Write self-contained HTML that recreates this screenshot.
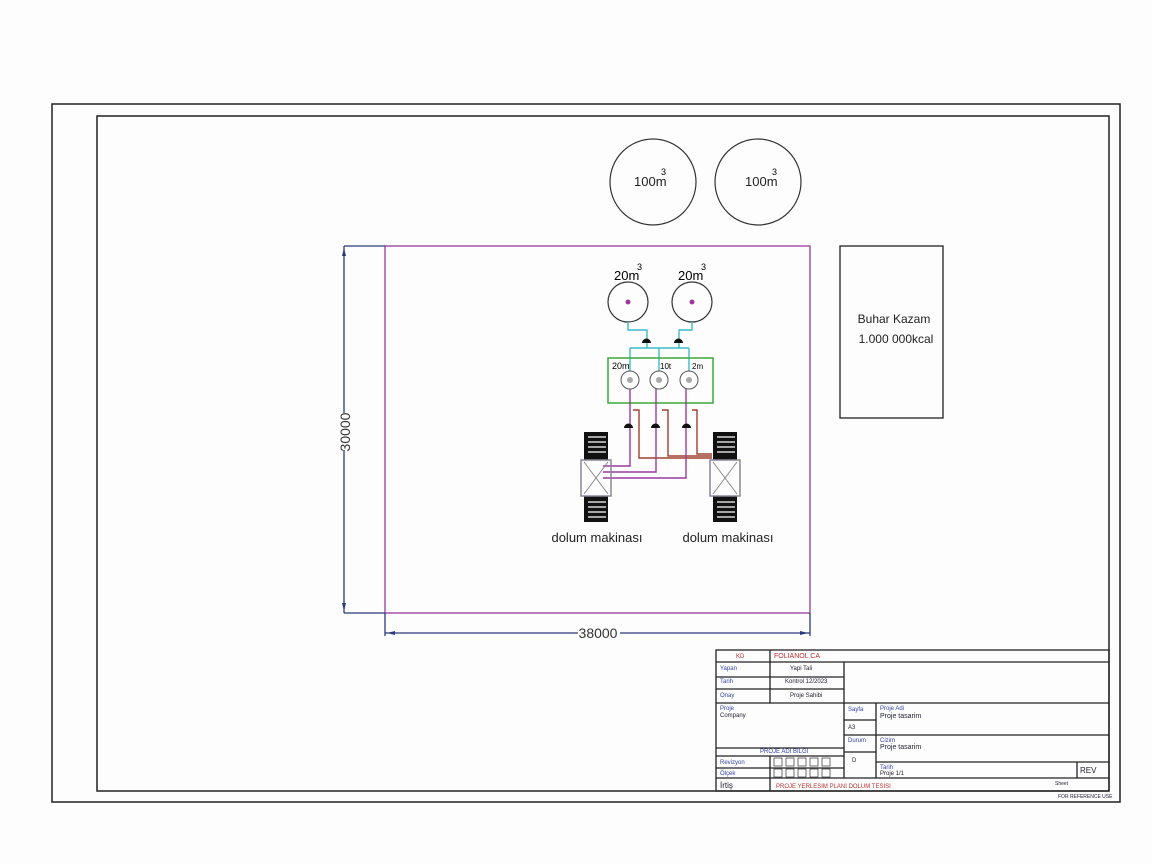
<!DOCTYPE html>
<html><head><meta charset="utf-8"><style>
html,body{margin:0;padding:0;background:#fff;}
svg{display:block;font-family:"Liberation Sans",sans-serif;}
</style></head><body>
<svg width="1152" height="864" viewBox="0 0 1152 864" xmlns="http://www.w3.org/2000/svg">
<rect width="1152" height="864" fill="#fdfdfd"/>
<rect x="52" y="104" width="1068" height="698" fill="none" stroke="#222" stroke-width="1.5"/>
<rect x="97" y="116" width="1012" height="675" fill="none" stroke="#222" stroke-width="1.5"/>

<!-- big tanks -->
<circle cx="653" cy="182" r="43" fill="none" stroke="#333" stroke-width="1.2"/>
<circle cx="758" cy="182" r="43" fill="none" stroke="#333" stroke-width="1.2"/>
<text x="634" y="186" font-size="13" fill="#222">100m</text><text x="661" y="175" font-size="9">3</text>
<text x="745" y="186" font-size="13" fill="#222">100m</text><text x="772" y="175" font-size="9">3</text>

<!-- area -->
<rect x="385" y="246" width="425" height="367" fill="none" stroke="#9a3a9a" stroke-width="1.3"/>
<g stroke="#2a3a7a" stroke-width="1.3" fill="none">
<line x1="344" y1="246" x2="385" y2="246"/><line x1="344" y1="613" x2="385" y2="613"/>
<line x1="344" y1="246" x2="344" y2="413"/><line x1="344" y1="450" x2="344" y2="613"/>
<line x1="385" y1="613" x2="385" y2="636"/><line x1="810" y1="613" x2="810" y2="636"/>
<line x1="385" y1="633" x2="578" y2="633"/><line x1="620" y1="633" x2="810" y2="633"/>
</g>
<path d="M344 248 l-2 8 h4z M344 611 l-2 -8 h4z M387 633 l8 -2 v4z M808 633 l-8 -2 v4z" fill="#2a3a7a"/>
<text x="350" y="432" font-size="14" fill="#333" transform="rotate(-90 350 432)" text-anchor="middle">30000</text>
<text x="598" y="638" font-size="14" fill="#333" text-anchor="middle">38000</text>

<!-- boiler -->
<rect x="840" y="246" width="103" height="172" fill="none" stroke="#222" stroke-width="1.3"/>
<text x="894" y="323" font-size="12" text-anchor="middle" fill="#222">Buhar Kazam</text>
<text x="896" y="343" font-size="12" text-anchor="middle" fill="#222">1.000 000kcal</text>

<!-- small tanks -->
<text x="614" y="280" font-size="13">20m</text><text x="637" y="270" font-size="9">3</text>
<text x="678" y="280" font-size="13">20m</text><text x="701" y="270" font-size="9">3</text>
<circle cx="628" cy="302" r="20" fill="none" stroke="#333" stroke-width="1.2"/>
<circle cx="692" cy="302" r="20" fill="none" stroke="#333" stroke-width="1.2"/>
<circle cx="628" cy="302" r="2.5" fill="#9a3a9a"/><circle cx="692" cy="302" r="2.5" fill="#9a3a9a"/>
<g stroke="#3bbcc8" stroke-width="1.4" fill="none">
<path d="M628 322 V330 H647 V348"/><path d="M692 322 V330 H679 V348"/>
<path d="M630 348 H689"/><path d="M630 348 V371 M659 348 V371 M689 348 V371"/>
</g>
<path d="M642 343 a4 4 0 0 1 9 0z M674 343 a4 4 0 0 1 9 0z" fill="#111"/>
<rect x="608" y="358" width="105" height="45" fill="none" stroke="#3aaa3a" stroke-width="1.5"/>
<text x="612" y="369" font-size="9">20m</text><text x="660" y="369" font-size="8">10t</text><text x="692" y="369" font-size="8">2m</text>
<g fill="#fff" stroke="#555"><circle cx="630" cy="380" r="9"/><circle cx="659" cy="380" r="9"/><circle cx="689" cy="380" r="9"/></g>
<g fill="#aaa"><circle cx="630" cy="380" r="3"/><circle cx="659" cy="380" r="3"/><circle cx="689" cy="380" r="3"/></g>

<!-- pipes -->
<g stroke="#a04030" stroke-width="1.4" fill="none">
<path d="M633 410 H639 V458 H712"/><path d="M662 410 H668 V456 H712"/><path d="M692 410 H697 V454 H712"/>
</g>
<g stroke="#9a3aa0" stroke-width="1.4" fill="none">
<path d="M630 389 V466 H603"/><path d="M656 389 V472 H603"/><path d="M686 389 V478 H603"/>
</g>
<path d="M624 428 a4 4 0 0 1 9 0z M651 428 a4 4 0 0 1 9 0z M682 428 a4 4 0 0 1 9 0z" fill="#111"/>

<!-- machines -->
<g id="m">
<rect x="584" y="432" width="24" height="28" fill="#111"/>
<rect x="584" y="496" width="24" height="26" fill="#111"/>
<g stroke="#fff" stroke-width="1.2">
<line x1="588" y1="437" x2="606" y2="437"/><line x1="588" y1="442" x2="606" y2="442"/><line x1="588" y1="447" x2="606" y2="447"/><line x1="588" y1="452" x2="606" y2="452"/>
<line x1="588" y1="502" x2="606" y2="502"/><line x1="588" y1="507" x2="606" y2="507"/><line x1="588" y1="512" x2="606" y2="512"/><line x1="588" y1="517" x2="606" y2="517"/>
</g>
<rect x="581" y="460" width="30" height="36" fill="none" stroke="#889" stroke-width="1.5"/>
<path d="M584 462 L608 494 M608 462 L584 494" stroke="#888" stroke-width="1"/>
</g>
<use href="#m" transform="translate(129 0)"/>
<text x="597" y="542" font-size="13" text-anchor="middle" fill="#222">dolum makinası</text>
<text x="728" y="542" font-size="13" text-anchor="middle" fill="#222">dolum makinası</text>

<!-- title block -->
<g stroke="#222" stroke-width="1.3" fill="none">
<rect x="716" y="650" width="393" height="141"/>
<line x1="716" y1="662" x2="1109" y2="662"/>
<line x1="716" y1="703" x2="1109" y2="703"/>
<line x1="716" y1="677" x2="844" y2="677"/><line x1="716" y1="689" x2="844" y2="689"/>
<line x1="770" y1="650" x2="770" y2="703"/><line x1="844" y1="662" x2="844" y2="778"/>
<line x1="876" y1="703" x2="876" y2="778"/>
<line x1="844" y1="735" x2="1109" y2="735"/><line x1="844" y1="720" x2="876" y2="720"/>
<line x1="716" y1="748" x2="844" y2="748"/><line x1="716" y1="756" x2="844" y2="756"/>
<line x1="716" y1="768" x2="844" y2="768"/><line x1="844" y1="752" x2="876" y2="752"/>
<line x1="876" y1="762" x2="1109" y2="762"/>
<line x1="716" y1="778" x2="1109" y2="778"/>
<line x1="770" y1="756" x2="770" y2="791"/>
<line x1="1077" y1="762" x2="1077" y2="778"/>
</g>
<g stroke="#333" stroke-width="0.7" fill="none">
<rect x="774" y="758" width="8" height="8"/><rect x="786" y="758" width="8" height="8"/><rect x="798" y="758" width="8" height="8"/><rect x="810" y="758" width="8" height="8"/><rect x="822" y="758" width="8" height="8"/>
<rect x="774" y="769" width="8" height="8"/><rect x="786" y="769" width="8" height="8"/><rect x="798" y="769" width="8" height="8"/><rect x="810" y="769" width="8" height="8"/><rect x="822" y="769" width="8" height="8"/>
</g>
<g font-size="6" fill="#223">
<text x="736" y="658" fill="#c03030">KD</text><text x="774" y="658" fill="#c03030" font-size="7">FOLIANOL CA</text>
<text x="720" y="670" fill="#3344aa">Yapan</text><text x="790" y="670">Yapi Tali</text>
<text x="720" y="683" fill="#3344aa">Tarih</text><text x="785" y="683">Kontrol 12/2023</text>
<text x="720" y="697" fill="#3344aa">Onay</text><text x="790" y="697">Proje Sahibi</text>
<text x="720" y="710" fill="#3344aa">Proje</text><text x="720" y="717">Company</text>
<text x="760" y="753" fill="#3344aa">PROJE ADI BILGI</text>
<text x="720" y="764" fill="#3344aa">Revizyon</text><text x="720" y="775" fill="#3344aa">Ölçek</text>
<text x="720" y="788" font-size="8">İrtiş</text>
<text x="776" y="788" fill="#c03030">PROJE YERLESIM PLANI DOLUM TESISI</text>
<text x="848" y="711" fill="#3344aa">Sayfa</text><text x="880" y="710" fill="#3344aa">Proje Adi</text><text x="880" y="718" font-size="7">Proje tasarim</text>
<text x="848" y="729">A3</text>
<text x="848" y="742" fill="#3344aa">Durum</text><text x="880" y="742" fill="#3344aa">Cizim</text><text x="880" y="749" font-size="7">Proje tasarim</text>
<text x="852" y="762">D</text>
<text x="880" y="769" fill="#3344aa">Tarih</text><text x="880" y="775">Proje 1/1</text>
<text x="1080" y="773" font-size="8">REV</text>
<text x="1055" y="785" font-size="5">Sheet</text>
<text x="1058" y="798" font-size="5">FOR REFERENCE USE</text>
</g>
</svg>
</body></html>
